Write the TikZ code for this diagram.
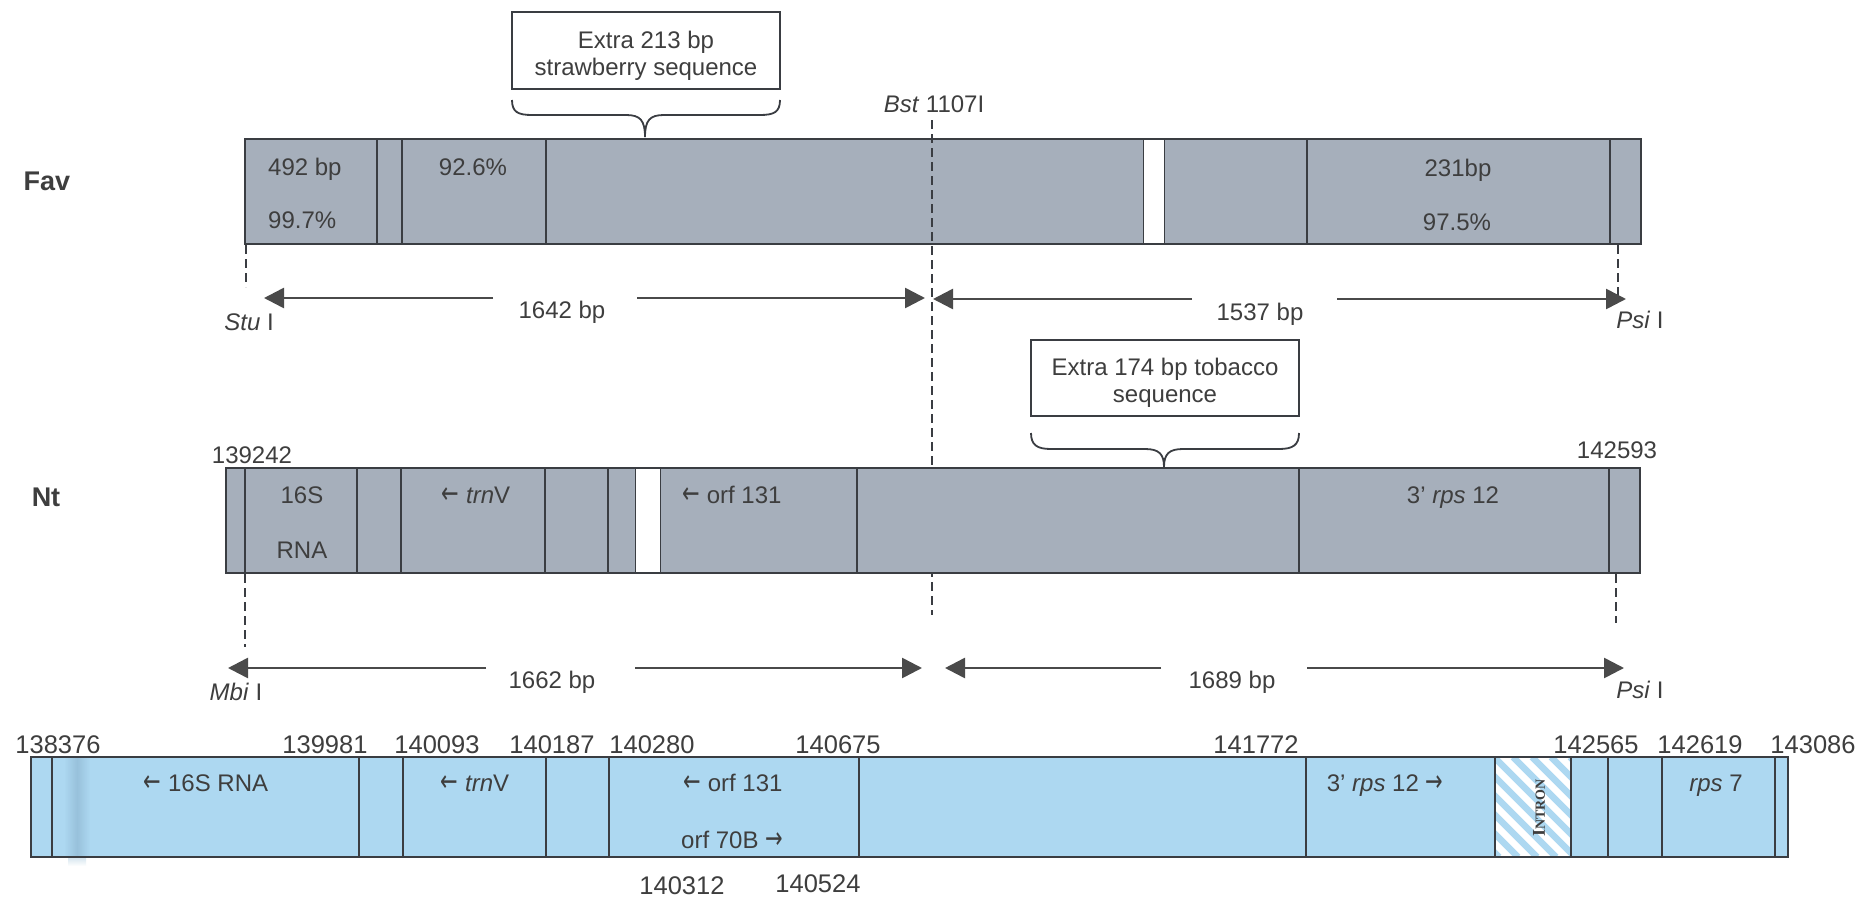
\documentclass[tikz,border=0pt]{standalone}
\usepackage{fontspec}
\usepackage{graphicx}
\setmainfont{Liberation Sans}
\newfontfamily\serifbold{Liberation Serif}
\newfontfamily\arrfont{DejaVu Sans}
\newcommand{\la}{\raisebox{0.5pt}{\scalebox{1.05}[1.5]{\arrfont\fontsize{20}{20}\selectfont ←}}}
\newcommand{\ra}{\raisebox{0.5pt}{\scalebox{1.05}[1.5]{\arrfont\fontsize{20}{20}\selectfont →}}}
\usetikzlibrary{arrows.meta}
\definecolor{favfill}{HTML}{A6AFBB}
\definecolor{bluefill}{HTML}{ADD8F1}
\definecolor{stripe}{HTML}{93BCD6}
\definecolor{edge}{HTML}{3A3D42}
\definecolor{txt}{HTML}{3E3E3E}
\definecolor{arr}{HTML}{4A4A4A}
\begin{document}
\begin{tikzpicture}[x=1pt,y=-1pt,
  lbl/.style={text=txt,font=\fontsize{24}{27}\selectfont,inner sep=0pt,text height=17pt,text depth=0pt},
  num/.style={text=txt,font=\fontsize{25.5}{28}\selectfont,inner sep=0pt,text height=18pt,text depth=0pt},
  rlbl/.style={text=txt,font=\fontsize{27}{30}\selectfont\bfseries,inner sep=0pt,text height=19pt,text depth=0pt},
  boxst/.style={draw=edge,line width=2pt,fill=white,text=txt,font=\fontsize{24}{27}\selectfont,align=center,minimum width=268pt,minimum height=76pt,inner sep=0pt},
  barline/.style={draw=edge,line width=2.6pt},
  divline/.style={draw=edge,line width=1.8pt},
  dashline/.style={draw=edge,line width=1.4pt,dash pattern=on 9pt off 5pt},
  dimarrow/.style={draw=arr,line width=2.6pt,-{Triangle[length=20pt,width=20pt]}},
  bracest/.style={draw=edge,line width=1.8pt}]
\useasboundingbox (0,0) rectangle (1862,899);
\fill[white] (0,0) rectangle (1862,899);

% ---------------- Fav ----------------
\node[rlbl] (fav) at (47,181) {Fav};
\fill[favfill] (245,139) rectangle (1641,244);
\fill[white] (1143,139) rectangle (1164,244);
\foreach \x in {377,402,546,1307,1610} \draw[divline] (\x,139) -- (\x,244);
\foreach \x in {1143,1164} \draw[edge,line width=1pt] (\x,139) -- (\x,244);
\draw[barline] (245,139) rectangle (1641,244);

\node[lbl,anchor=west] (f492) at (268,167) {492 bp};
\node[lbl,anchor=west] (f997) at (268,220) {99.7\%};
\node[lbl] (f926) at (473,167) {92.6\%};
\node[lbl] (f231) at (1458,168) {231bp};
\node[lbl] (f975) at (1457,222) {97.5\%};

\node[boxst] (box1) at (646,50.5) {\rule{0pt}{27pt}Extra 213 bp\\strawberry sequence};
\draw[bracest] (512,100) .. controls (512,112) and (518,115) .. (532,115) -- (626,115)
  .. controls (640,115) and (645,120) .. (645,137);
\draw[bracest] (780,100) .. controls (780,112) and (774,115) .. (760,115) -- (664,115)
  .. controls (650,115) and (645,120) .. (645,137);

\node[lbl] (bst) at (934,104) {\textit{Bst} 1107I};

% dashed markers
\coordinate (bstTop) at (932,120); \coordinate (bstBot) at (932,615);
\draw[dashline] (bstTop) -- (bstBot);
\coordinate (stuTop) at (246,245); \coordinate (stuBot) at (246,287);
\draw[dashline] (stuTop) -- (stuBot);
\coordinate (psiATop) at (1618,245); \coordinate (psiABot) at (1618,300);
\draw[dashline] (psiATop) -- (psiABot);

% Fav arrows
\node[lbl] (d1642) at (562,310) {1642 bp};
\coordinate (a1s) at (493,298); \coordinate (a1e) at (264,298);
\coordinate (a2s) at (637,298); \coordinate (a2e) at (925,298);
\draw[dimarrow] (a1s) -- (a1e);
\draw[dimarrow] (a2s) -- (a2e);
\node[lbl] (d1537) at (1260,312) {1537 bp};
\coordinate (a3s) at (1192,299); \coordinate (a3e) at (933,299);
\coordinate (a4s) at (1337,299); \coordinate (a4e) at (1626,299);
\draw[dimarrow] (a3s) -- (a3e);
\draw[dimarrow] (a4s) -- (a4e);
\node[lbl] (stu) at (249,322) {\textit{Stu} I};
\node[lbl] (psiA) at (1640,320) {\textit{Psi} I};

% ---------------- Nt ----------------
\node[rlbl] (nt) at (46,497) {Nt};
\fill[favfill] (226,468) rectangle (1640,573);
\fill[white] (635,468) rectangle (660,573);
\foreach \x in {245,357,401,545,608,857,1299,1609} \draw[divline] (\x,468) -- (\x,573);
\foreach \x in {635,660} \draw[edge,line width=1pt] (\x,468) -- (\x,573);
\draw[barline] (226,468) rectangle (1640,573);

\node[lbl] (n16s) at (302,495) {16S};
\node[lbl] (nrna) at (302,550) {RNA};
\node[lbl] (ntrnv) at (476,495) {\la\ \textit{trn}V};
\node[lbl] (norf) at (732,495) {\la\ orf 131};
\node[lbl] (nrps) at (1453,495) {3' \textit{rps} 12};
\node[lbl] (n139242) at (252,455) {139242};
\node[lbl] (n142593) at (1617,450) {142593};

\node[boxst] (box2) at (1165,377.5) {\rule{0pt}{27pt}Extra 174 bp tobacco\\sequence};
\draw[bracest] (1031,433) .. controls (1031,445) and (1037,449) .. (1051,449) -- (1145,449)
  .. controls (1159,449) and (1164,454) .. (1164,467);
\draw[bracest] (1299,433) .. controls (1299,445) and (1293,449) .. (1279,449) -- (1183,449)
  .. controls (1169,449) and (1164,454) .. (1164,467);

\coordinate (mbiTop) at (245,574); \coordinate (mbiBot) at (245,647);
\draw[dashline] (mbiTop) -- (mbiBot);
\coordinate (psiBTop) at (1616,574); \coordinate (psiBBot) at (1616,623);
\draw[dashline] (psiBTop) -- (psiBBot);

\node[lbl] (d1662) at (552,680) {1662 bp};
\coordinate (b1s) at (486,668); \coordinate (b1e) at (228,668);
\coordinate (b2s) at (635,668); \coordinate (b2e) at (922,668);
\draw[dimarrow] (b1s) -- (b1e);
\draw[dimarrow] (b2s) -- (b2e);
\node[lbl] (d1689) at (1232,680) {1689 bp};
\coordinate (b3s) at (1161,668); \coordinate (b3e) at (945,668);
\coordinate (b4s) at (1307,668); \coordinate (b4e) at (1624,668);
\draw[dimarrow] (b3s) -- (b3e);
\draw[dimarrow] (b4s) -- (b4e);
\node[lbl] (mbi) at (236,692) {\textit{Mbi} I};
\node[lbl] (psiB) at (1640,690) {\textit{Psi} I};

% ---------------- sequence map ----------------
\fill[bluefill] (31,757) rectangle (1788,857);
\shade[left color=bluefill,right color=bluefill,middle color=stripe,opacity=0.8] (64,757) rectangle (90,857);
\shade[top color=stripe,bottom color=white,opacity=0.35] (68,858) rectangle (86,866);
\begin{scope}
  \clip (1495,757) rectangle (1571,857);
  \fill[white] (1495,757) rectangle (1571,857);
  \foreach \i in {0,...,11} \draw[bluefill,line width=6.5pt] ({1380+\i*19},757) -- ++(100,100);
\end{scope}
\foreach \x in {52,359,403,546,609,859,1306,1495,1571,1608,1662,1775} \draw[divline] (\x,757) -- (\x,857);
\draw[barline] (31,757) rectangle (1788,857);

\node[rotate=90,text=txt,inner sep=0pt] (intron) at (1539,808)
  {\serifbold\bfseries\fontsize{18}{18}\selectfont I\fontsize{14}{14}\selectfont NTRON};

\node[num] (p138376) at (58,744) {138376};
\node[num] (p139981) at (325,744) {139981};
\node[num] (p140093) at (437,744) {140093};
\node[num] (p140187) at (552,744) {140187};
\node[num] (p140280) at (652,744) {140280};
\node[num] (p140675) at (838,744) {140675};
\node[num] (p141772) at (1256,744) {141772};
\node[num] (p142565) at (1596,744) {142565};
\node[num] (p142619) at (1700,744) {142619};
\node[num] (p143086) at (1813,744) {143086};
\node[num] (p140312) at (682,885) {140312};
\node[num] (p140524) at (818,883) {140524};

\node[lbl] (s16s) at (206,783) {\la\ 16S RNA};
\node[lbl] (strnv) at (475,783) {\la\ \textit{trn}V};
\node[lbl] (sorf131) at (733,783) {\la\ orf 131};
\node[lbl] (sorf70) at (732,840) {orf 70B \ra};
\node[lbl] (srps12) at (1385,783) {3' \textit{rps} 12 \ra};
\node[lbl] (srps7) at (1716,783) {\textit{rps} 7};
\end{tikzpicture}
\end{document}
